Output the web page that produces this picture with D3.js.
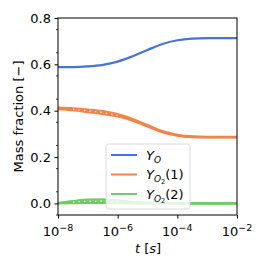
<!DOCTYPE html>
<html><head><meta charset="utf-8">
<script src="https://cdn.jsdelivr.net/npm/d3@7"></script>
<style>body{margin:0;background:#fff}svg{display:block;font-family:"DejaVu Sans",sans-serif}</style>
</head><body><svg id="c" width="266" height="266"></svg>
<script>
const tExp = [-8,-7.5,-7,-6.5,-6,-5.5,-5,-4.5,-4,-3.5,-3,-2.5,-2];
const yO      = [0.588,0.588,0.591,0.598,0.612,0.635,0.662,0.688,0.704,0.711,0.713,0.713,0.713];
const yO2a_hi = [0.413,0.410,0.405,0.398,0.385,0.364,0.338,0.312,0.296,0.289,0.287,0.287,0.287];
const yO2a_lo = [0.407,0.402,0.394,0.386,0.375,0.357,0.332,0.307,0.292,0.286,0.285,0.285,0.285];
const yO2b_hi = [0.002,0.010,0.016,0.017,0.013,0.007,0.003,0.001,0.000,0.000,0.000,0.000,0.000];
const yO2b_lo = [0.000,0.001,0.002,0.002,0.001,0.000,0.000,0.000,0.000,0.000,0.000,0.000,0.000];
const xTickExp = [-8,-6,-4,-2];
const yTicks = [0.0,0.2,0.4,0.6,0.8];
const colors = {O:"#4474d9", O2a:"#f2844a", O2b:"#6ccc66"};

const svg = d3.select("#c");
const L=58,R=237,T=18,B=215;
const x = d3.scaleLog().domain([1e-8,1e-2]).range([L,R]);
const y = d3.scaleLinear().domain([-0.05,0.8]).range([B,T]);
const ts = tExp.map(e=>Math.pow(10,e));
const line = d3.line().x(d=>x(d[0])).y(d=>y(d[1])).curve(d3.curveMonotoneX);
const pts = arr => ts.map((t,i)=>[t,arr[i]]);

function drawBand(hi,lo,col){
  svg.append("path").attr("d",line(pts(hi))).attr("fill","none").attr("stroke",col).attr("stroke-width",2.2);
  svg.append("path").attr("d",line(pts(lo))).attr("fill","none").attr("stroke",col).attr("stroke-width",2.2);
  const mid = hi.map((v,i)=>(v+lo[i])/2);
  svg.append("path").attr("d",line(pts(mid))).attr("fill","none").attr("stroke",col).attr("stroke-width",2);
}
svg.append("path").attr("d",line(pts(yO))).attr("fill","none").attr("stroke",colors.O).attr("stroke-width",2.2);
drawBand(yO2a_hi,yO2a_lo,colors.O2a);
drawBand(yO2b_hi,yO2b_lo,colors.O2b);
// white dotted inner lines
const dotIdx=[1,2,3,4];
[[yO2a_hi,yO2a_lo],[yO2b_hi,yO2b_lo]].forEach(([h,l])=>{
  const m = dotIdx.map(i=>[ts[i],(h[i]+l[i])/2]);
  svg.append("path").attr("d",line(m)).attr("fill","none").attr("stroke","#fff").attr("stroke-width",1.2).attr("stroke-dasharray","1.5,4").attr("opacity",0.8);
});

// frame
svg.append("rect").attr("x",L).attr("y",T).attr("width",R-L).attr("height",B-T).attr("fill","none").attr("stroke","#000").attr("stroke-width",1);

// y axis
const ya = svg.append("g").attr("transform",`translate(${L},0)`).call(d3.axisLeft(y).tickValues(yTicks).tickFormat(d3.format(".1f")).tickSize(3.5).tickPadding(3.5));
ya.select(".domain").remove();
ya.selectAll("text").attr("font-size",13).attr("fill","#000").attr("font-family","DejaVu Sans");
const minors = d3.range(-0.05,0.801,0.05).filter(v=>Math.abs(Math.round(v*10)-v*10)>0.01);
svg.append("g").selectAll("line").data(minors).join("line").attr("x1",L-2).attr("x2",L).attr("y1",d=>y(d)).attr("y2",d=>y(d)).attr("stroke","#000").attr("stroke-width",0.8);

// x axis
const xa = svg.append("g").attr("transform",`translate(0,${B})`).call(d3.axisBottom(x).tickValues(xTickExp.map(e=>Math.pow(10,e))).tickFormat("").tickSize(3.5));
xa.select(".domain").remove();
xTickExp.forEach(e=>{
  const t = svg.append("text").attr("x",x(Math.pow(10,e))).attr("y",236).attr("text-anchor","middle").attr("font-size",13).attr("fill","#000");
  t.append("tspan").text("10");
  t.append("tspan").attr("dy",-5).attr("font-size",9.5).text("\u2212"+Math.abs(e));
});

// labels
const xl = svg.append("text").attr("x",148).attr("y",253).attr("text-anchor","middle").attr("font-size",13);
xl.append("tspan").attr("font-style","italic").text("t");
xl.append("tspan").text("  [");
xl.append("tspan").attr("font-style","italic").text("s");
xl.append("tspan").text("]");
svg.append("text").attr("transform",`translate(23,${(T+B)/2}) rotate(-90)`).attr("text-anchor","middle").attr("font-size",13).text("Mass fraction [\u2212]");

// legend
const lg = svg.append("g");
lg.append("rect").attr("x",106).attr("y",144).attr("width",84).attr("height",65).attr("rx",2.5).attr("fill","#fff").attr("fill-opacity",0.8).attr("stroke","#d0d0d0").attr("stroke-width",0.8);
const entries = [{c:colors.O,sub:"O",suf:""},{c:colors.O2a,sub:"O",sub2:"2",suf:"(1)"},{c:colors.O2b,sub:"O",sub2:"2",suf:"(2)"}];
entries.forEach((e,i)=>{
  const yy = 155+i*19.5;
  lg.append("line").attr("x1",111).attr("x2",137).attr("y1",yy).attr("y2",yy).attr("stroke",e.c).attr("stroke-width",2);
  const t = lg.append("text").attr("x",146).attr("y",yy+4.5).attr("font-size",13);
  t.append("tspan").attr("font-style","italic").text("Y");
  t.append("tspan").attr("font-style","italic").attr("font-size",9).attr("dy",3).text(e.sub);
  let back = 3;
  if(e.sub2){ t.append("tspan").attr("font-size",6.5).attr("dy",1.5).text(e.sub2); back=4.5; }
  if(e.suf){ t.append("tspan").attr("dy",-back).text(e.suf); }
});
</script></body></html>
